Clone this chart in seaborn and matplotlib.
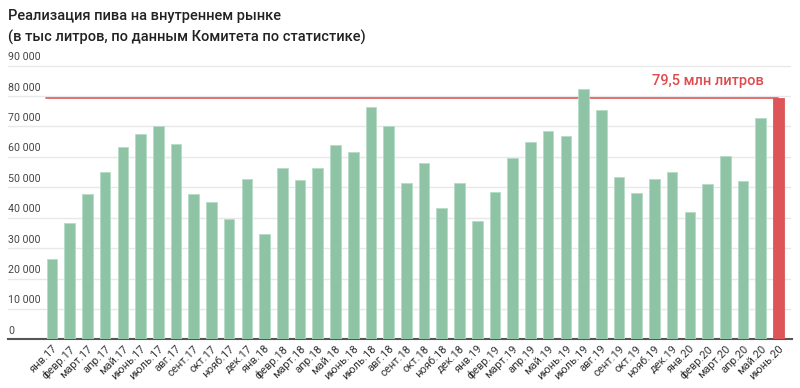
import numpy as np
import matplotlib
matplotlib.use("Agg")
import matplotlib.pyplot as plt
import seaborn as sns

# Data (thousand litres)
months = ["янв", "февр", "март", "апр", "май", "июнь",
          "июль", "авг", "сент", "окт", "нояб", "дек"]
labels = [f"{m}.{y}" for y in ["17", "18", "19", "20"] for m in months][:42]
values = [26400, 38400, 47700, 54900, 63300, 67500, 70000, 64300, 47700, 45200, 39600, 52700,
          34600, 56200, 52500, 56200, 63800, 61500, 76500, 70200, 51500, 58100, 43100, 51300,
          38800, 48500, 59800, 64800, 68500, 66800, 82200, 75500, 53400, 48000, 52700, 55000,
          41800, 51100, 60300, 52100, 72900, 79500]
y_ticks = list(range(0, 90001, 10000))
level = 79500
level_label = "79,5 млн литров"
title_lines = ["Реализация пива на внутреннем рынке",
               "(в тыс литров, по данным Комитета по статистике)"]

green = "#8fc3a6"
red = "#dd5558"
colors = [green] * (len(values) - 1) + [red]

sns.set_theme(style="white")
plt.rcParams["font.family"] = ["Roboto", "DejaVu Sans"]

fig = plt.figure(figsize=(8, 3.88), dpi=100)
ax = fig.add_axes([8 / 800, (388 - 339.3) / 388, 782 / 800, (339.3 - 65.7) / 388])

sns.barplot(x=labels, y=values, hue=labels, palette=colors, legend=False,
            width=0.6, saturation=1, edgecolor="#b5dcc6", linewidth=0.6, ax=ax, zorder=3)
ax.patches[-1].set_edgecolor(red)

ax.set_xlim(-2.48, 41.65)
ax.set_ylim(0, 90000)

# gridlines
for v in y_ticks[1:]:
    ax.axhline(v, color="#e8e8e8", lw=1, zorder=1, clip_on=False)

# y labels sitting on the gridlines
for v in y_ticks:
    ax.annotate(f"{v:,}".replace(",", " "), xy=(0, v), xycoords=("axes fraction", "data"),
                xytext=(0, 2.5), textcoords="offset points", ha="left", va="bottom",
                fontsize=7.7, color="#444444")

# reference level line
ax.plot([-0.32, len(values) - 1], [level, level], color="#e0575a", lw=1.2, zorder=2)
ax.text(40.2, 85000, level_label, ha="right", va="center", fontsize=10.5,
        fontweight="medium", color="#dd4b4f")

ax.set_yticks([])
ax.set_xticks(range(len(labels)))
ax.set_xticklabels(labels, rotation=45, ha="right", rotation_mode="anchor",
                   fontsize=8, color="#333333")
ax.tick_params(axis="x", length=0, pad=3)
for s in ["top", "right", "left"]:
    ax.spines[s].set_visible(False)
ax.spines["bottom"].set_color("#555555")
ax.spines["bottom"].set_linewidth(1.5)
ax.spines["bottom"].set_bounds(-2.48, 41.75)
ax.set_xlabel("")
ax.set_ylabel("")

fig.text(8 / 800, 1 - 16 / 388, title_lines[0], ha="left", va="center",
         fontsize=10.5, fontweight="medium", color="#222222")
fig.text(8 / 800, 1 - 37 / 388, title_lines[1], ha="left", va="center",
         fontsize=10.5, fontweight="medium", color="#222222")

fig.savefig("out.png", dpi=100)
